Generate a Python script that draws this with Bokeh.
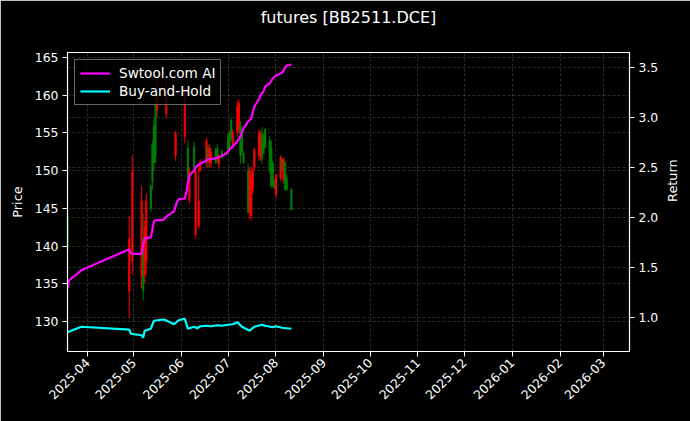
import pandas as pd
from math import pi
from bokeh.plotting import figure
from bokeh.models import (Range1d, LinearAxis, DatetimeTickFormatter, MonthsTicker,
                          SingleIntervalTicker, Grid, Legend, LegendItem, ColumnDataSource,
                          PrintfTickFormatter, Title)
from bokeh.embed import file_html
from bokeh.resources import INLINE

# ---------------- data ----------------
candle_dates = ["2025-03-19", "2025-04-28", "2025-04-30", "2025-05-06", "2025-05-07", "2025-05-08",
                "2025-05-09", "2025-05-12", "2025-05-13", "2025-05-14", "2025-05-15", "2025-05-16",
                "2025-05-22", "2025-05-28", "2025-06-03", "2025-06-05", "2025-06-06", "2025-06-09",
                "2025-06-10", "2025-06-12", "2025-06-13", "2025-06-17", "2025-06-18", "2025-06-19",
                "2025-06-20", "2025-06-23", "2025-06-24", "2025-06-25", "2025-06-27", "2025-07-01",
                "2025-07-02", "2025-07-03", "2025-07-04", "2025-07-07", "2025-07-08", "2025-07-09",
                "2025-07-10", "2025-07-11", "2025-07-14", "2025-07-15", "2025-07-16", "2025-07-17",
                "2025-07-18", "2025-07-21", "2025-07-22", "2025-07-23", "2025-07-24", "2025-07-25",
                "2025-07-28", "2025-07-29", "2025-07-30", "2025-07-31", "2025-08-01", "2025-08-04",
                "2025-08-05", "2025-08-06", "2025-08-07", "2025-08-08", "2025-08-11"]
candle_open = [139.5, 141.0, 150.0, 146.0, 134.0, 142.5, 146.0, 145.0, 148.5, 151.0, 152.0, 160.0,
               160.0, 155.0, 161.0, 149.0, 150.0, 150.5, 150.0, 146.0, 151.2, 154.0, 151.0, 153.0,
               152.5, 151.0, 151.5, 152.0, 151.7, 152.5, 153.0, 154.2, 155.2, 158.5, 159.0, 152.0,
               152.5, 151.0, 144.5, 150.0, 149.0, 150.0, 152.8, 155.0, 154.5, 151.5, 152.3, 153.0,
               150.0, 148.0, 148.0, 147.8, 149.5, 151.8, 150.0, 151.5, 147.5, 147.5, 144.8]
candle_high = [145.0, 144.0, 152.0, 148.0, 144.3, 143.4, 147.0, 148.3, 154.0, 157.0, 160.0, 162.0,
               162.0, 155.3, 161.5, 154.0, 150.5, 153.8, 150.3, 150.4, 151.5, 154.4, 153.6, 153.5,
               153.0, 153.0, 153.5, 152.2, 152.8, 155.0, 155.3, 157.0, 155.5, 159.2, 159.5, 156.6,
               156.0, 152.6, 150.9, 150.4, 150.6, 150.4, 153.0, 155.5, 155.3, 155.8, 154.9, 155.7,
               154.6, 154.0, 151.3, 148.8, 149.6, 152.0, 151.7, 151.7, 151.3, 149.6, 147.7]
candle_low = [138.5, 130.5, 136.3, 134.4, 132.8, 135.0, 136.3, 144.5, 147.5, 150.0, 151.0, 157.0,
              156.9, 151.3, 153.6, 148.7, 145.6, 150.0, 141.0, 142.3, 149.8, 150.4, 150.4, 150.5,
              150.4, 150.9, 151.0, 150.2, 151.5, 152.2, 152.6, 154.0, 153.0, 154.4, 155.0, 150.9,
              152.0, 150.9, 144.3, 143.6, 143.4, 146.9, 150.0, 151.3, 151.3, 150.9, 152.2, 153.0,
              149.6, 147.7, 147.7, 147.5, 146.4, 148.7, 149.8, 148.3, 147.3, 147.3, 144.7]
candle_close = [144.0, 134.0, 138.0, 136.0, 141.0, 136.0, 138.0, 148.0, 153.5, 156.0, 159.0, 158.0,
                157.5, 152.0, 154.5, 153.0, 146.0, 153.2, 141.5, 142.6, 150.0, 151.0, 153.0, 151.0,
                151.0, 152.8, 153.0, 150.8, 152.6, 154.6, 155.0, 156.7, 153.4, 155.0, 155.5, 156.0,
                155.5, 152.3, 150.0, 144.5, 144.0, 147.5, 150.5, 152.0, 151.8, 155.0, 154.5, 155.5,
                154.0, 153.0, 151.0, 148.6, 146.8, 149.0, 151.5, 148.8, 151.0, 149.0, 147.5]

strat_dates = ["2025-03-19", "2025-03-20", "2025-03-28", "2025-04-28", "2025-04-29", "2025-04-30",
               "2025-05-06", "2025-05-07", "2025-05-08", "2025-05-12", "2025-05-13", "2025-05-14",
               "2025-05-15", "2025-05-20", "2025-05-23", "2025-05-27", "2025-05-29", "2025-05-30",
               "2025-06-03", "2025-06-04", "2025-06-05", "2025-06-06", "2025-06-09", "2025-06-10",
               "2025-06-12", "2025-06-16", "2025-06-18", "2025-06-23", "2025-06-26", "2025-06-30",
               "2025-07-02", "2025-07-04", "2025-07-07", "2025-07-09", "2025-07-11", "2025-07-14",
               "2025-07-16", "2025-07-17", "2025-07-18", "2025-07-21", "2025-07-22", "2025-07-23",
               "2025-07-24", "2025-07-25", "2025-07-28", "2025-07-29", "2025-07-30", "2025-08-01",
               "2025-08-04", "2025-08-05", "2025-08-06", "2025-08-07", "2025-08-08", "2025-08-11"]
strat_vals = [1.29, 1.37, 1.47, 1.68, 1.64, 1.635, 1.635, 1.72, 1.79, 1.80, 1.88, 1.96,
              1.97, 1.975, 2.02, 2.06, 2.16, 2.18, 2.19, 2.25, 2.35, 2.42, 2.47, 2.50,
              2.53, 2.56, 2.58, 2.59, 2.61, 2.64, 2.68, 2.71, 2.76, 2.81, 2.89, 2.96,
              2.99, 3.05, 3.11, 3.18, 3.22, 3.24, 3.26, 3.31, 3.34, 3.37, 3.39, 3.42,
              3.44, 3.45, 3.47, 3.50, 3.52, 3.53]

bh_dates = ["2025-03-19", "2025-03-28", "2025-04-28", "2025-04-29", "2025-05-06", "2025-05-07",
            "2025-05-08", "2025-05-12", "2025-05-14", "2025-05-19", "2025-05-21", "2025-05-27",
            "2025-05-30", "2025-06-03", "2025-06-05", "2025-06-09", "2025-06-11", "2025-06-13",
            "2025-06-17", "2025-06-20", "2025-06-24", "2025-06-27", "2025-07-01", "2025-07-04",
            "2025-07-07", "2025-07-10", "2025-07-15", "2025-07-18", "2025-07-23", "2025-07-25",
            "2025-07-30", "2025-08-01", "2025-08-05", "2025-08-08", "2025-08-11"]
bh_vals = [0.85, 0.905, 0.875, 0.835, 0.82, 0.795, 0.865, 0.885, 0.965, 0.975, 0.975, 0.93,
           0.97, 0.985, 0.885, 0.905, 0.89, 0.91, 0.915, 0.91, 0.92, 0.915, 0.925, 0.93,
           0.95, 0.905, 0.865, 0.905, 0.925, 0.915, 0.90, 0.91, 0.895, 0.89, 0.885]

title_text = "futures [BB2511.DCE]"
x_start, x_end = "2025-03-19", "2026-03-18"
price_lim = (126.03, 165.66)
ret_lim = (0.657, 3.65)

# ---------------- figure ----------------
FONT = "DejaVu Sans"
p = figure(width=690, height=421, x_axis_type="datetime", output_backend="svg",
           toolbar_location=None,
           x_range=Range1d(pd.Timestamp(x_start), pd.Timestamp(x_end)),
           y_range=Range1d(*price_lim),
           min_border_left=67, min_border_right=61, min_border_top=52, min_border_bottom=70)
p.extra_y_ranges = {"ret": Range1d(*ret_lim)}

p.background_fill_color = "black"
p.border_fill_color = "black"
p.outline_line_color = "white"
p.outline_line_width = 1.2

# title: an invisible spacer panel next to the frame, the real title above it
p.title_location = None
spacer = Title(text=" ", text_font=FONT, text_font_size="16px", standoff=5, text_color="black")
main_title = Title(text=title_text, align="center", vertical_align="bottom", standoff=0,
                   text_color="white", text_font=FONT, text_font_style="normal",
                   text_font_size="16px")
p.add_layout(spacer, "above")
p.add_layout(main_title, "above")

# axes
def style_axis(ax):
    ax.axis_line_color = "white"
    ax.major_tick_line_color = "white"
    ax.minor_tick_line_color = None
    ax.major_tick_out = 5
    ax.major_tick_in = 0
    ax.major_label_standoff = 4
    ax.major_label_text_color = "white"
    ax.major_label_text_font = FONT
    ax.major_label_text_font_size = "12.4px"
    ax.axis_label_text_color = "white"
    ax.axis_label_text_font = FONT
    ax.axis_label_text_font_size = "12.9px"
    ax.axis_label_text_font_style = "normal"

xax = p.xaxis[0]
xax.ticker = MonthsTicker(months=list(range(1, 13)))
xax.formatter = DatetimeTickFormatter(days="%Y-%m", months="%Y-%m", years="%Y-%m")
xax.major_label_orientation = pi / 4
style_axis(xax)

yax = p.yaxis[0]
yax.ticker = SingleIntervalTicker(interval=5)
yax.axis_label = "Price"
yax.axis_label_standoff = 7
style_axis(yax)

rax = LinearAxis(y_range_name="ret", ticker=SingleIntervalTicker(interval=0.5),
                 formatter=PrintfTickFormatter(format="%.1f"), axis_label="Return")
style_axis(rax)
rax.axis_label_standoff = 11
if "axis_label_orientation" in rax.properties():
    rax.axis_label_orientation = pi / 2
p.add_layout(rax, "right")

for g in (p.xgrid[0], p.ygrid[0]):
    g.grid_line_color = "#8a8a8a"
    g.grid_line_alpha = 0.45
    g.grid_line_dash = "3 2"
    g.grid_line_width = 0.7
rgrid = Grid(dimension=1, ticker=rax.ticker, y_range_name="ret",
             grid_line_color="#8a8a8a", grid_line_alpha=0.45, grid_line_dash="3 2",
             grid_line_width=0.7)
p.add_layout(rgrid)

# candles
cd = pd.to_datetime(candle_dates)
colors = ["green" if c >= o else "red" for o, c in zip(candle_open, candle_close)]
src = ColumnDataSource(dict(x=cd, o=candle_open, h=candle_high, l=candle_low, c=candle_close, col=colors))
p.segment(x0="x", y0="l", x1="x", y1="h", source=src, line_color="col", line_width=1.1, line_alpha=0.9)
p.segment(x0="x", y0="o", x1="x", y1="c", source=src, line_color="col", line_width=2.2, line_alpha=0.9)

# return lines
l1 = p.line(pd.to_datetime(strat_dates), strat_vals, y_range_name="ret", line_color="#ff00ff", line_width=2.2)
l2 = p.line(pd.to_datetime(bh_dates), bh_vals, y_range_name="ret", line_color="#00ffff", line_width=2.2)

legend = Legend(items=[LegendItem(label="Swtool.com AI", renderers=[l1]),
                       LegendItem(label="Buy-and-Hold", renderers=[l2])],
                location="top_left")
legend.background_fill_color = "black"
legend.background_fill_alpha = 0.8
legend.border_line_color = "#cccccc"
legend.border_line_width = 1
legend.label_text_color = "white"
legend.label_text_font = FONT
legend.label_text_font_size = "13.6px"
legend.glyph_width = 30
legend.glyph_height = 16
legend.label_height = 16
legend.label_standoff = 9
legend.padding = 5
legend.spacing = 2
legend.margin = 7
p.add_layout(legend)

open("out.html", "w").write(file_html(p, INLINE))
